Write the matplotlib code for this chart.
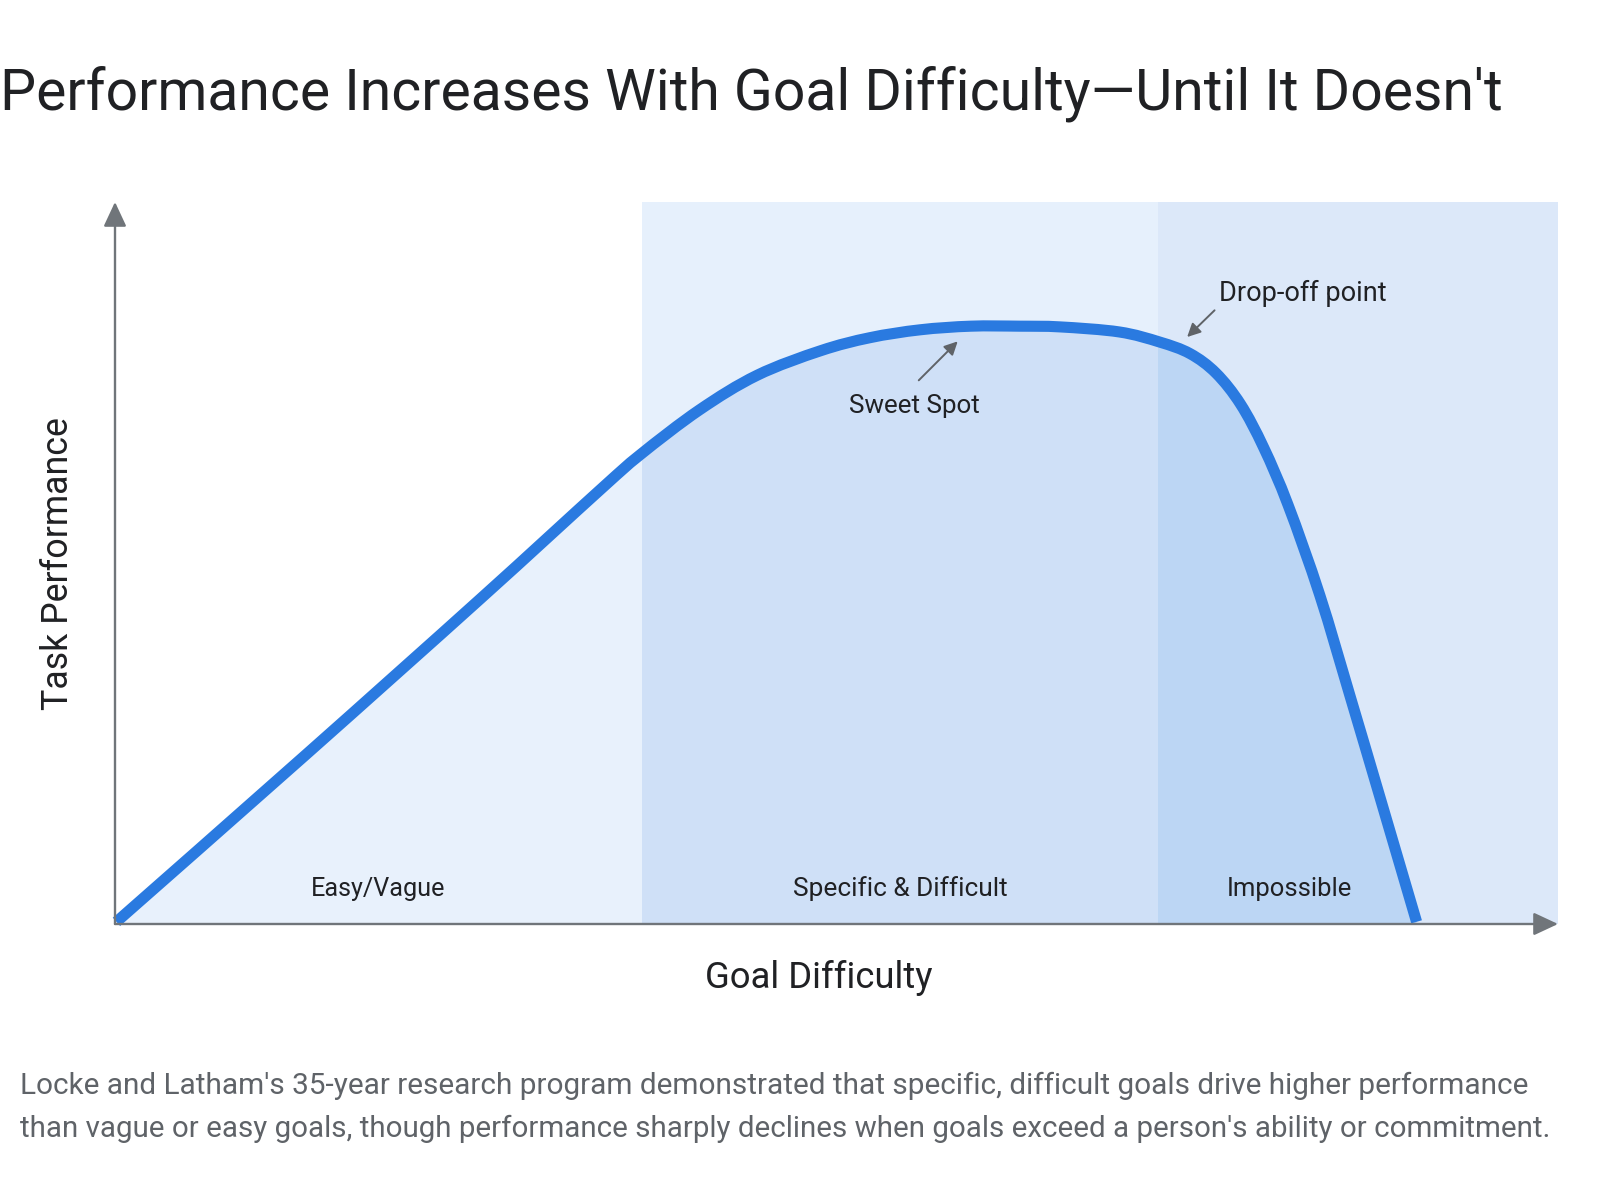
import matplotlib
matplotlib.use("Agg")
import matplotlib.pyplot as plt
from matplotlib.patches import Rectangle, FancyArrowPatch, PathPatch
from matplotlib.path import Path
import numpy as np

# ---------------- data ----------------
difficulty = [0.1, 13.2, 25.3, 33.6, 36.4, 40.5, 44.5, 48.9, 52.3, 55.8,
              59.3, 62.7, 65.5, 69.6, 72.4, 74.5, 76.3, 78.0, 79.6, 81.3,
              83.5, 85.6, 87.7, 90.2]
performance = [0.3, 23.4, 45.0, 60.1, 65.0, 71.2, 76.0, 79.4, 81.2, 82.3,
               82.8, 82.8, 82.7, 82.0, 80.6, 79.0, 76.3, 72.0, 66.0, 58.0,
               45.5, 31.5, 17.3, 0.3]

zone_names = ["Easy/Vague", "Specific & Difficult", "Impossible"]
zone_edges = [0, 36.5, 72.3, 100]
zone_label_x = [18.2, 54.4, 81.4]

title = "Performance Increases With Goal Difficulty\u2014Until It Doesn't"
x_label = "Goal Difficulty"
y_label = "Task Performance"
caption = ["Locke and Latham's 35-year research program demonstrated that specific, difficult goals drive higher performance",
           "than vague or easy goals, though performance sharply declines when goals exceed a person's ability or commitment."]

# ---------------- style ----------------
FONT = ["Roboto", "DejaVu Sans"]
plt.rcParams["font.family"] = FONT
DARK = "#202124"
GREY = "#5f6368"
AXIS = "#70757a"
BLUE = "#2a7ae0"
under_colors = ["#e8f1fc", "#cfe0f7", "#bcd6f4"]
above_colors = [None, "#e6f0fc", "#dce8f9"]

W, H = 1600, 1200
fig = plt.figure(figsize=(16, 12), dpi=100)
fig.patch.set_facecolor("white")
ax = fig.add_axes([115 / W, 276 / H, 1443 / W, 722 / H])
ax.set_xlim(0, 100)
ax.set_ylim(0, 100)
ax.axis("off")

pts = np.column_stack([difficulty, performance])


def smooth_path(p, closed_to_base=False):
    """Catmull-Rom style cubic Bezier path through the points."""
    verts = [p[0]]
    codes = [Path.MOVETO]
    n = len(p)
    for i in range(n - 1):
        p0 = p[i - 1] if i > 0 else p[i]
        p1, p2 = p[i], p[i + 1]
        p3 = p[i + 2] if i + 2 < n else p[i + 1]
        c1 = p1 + (p2 - p0) / 6.0
        c2 = p2 - (p3 - p1) / 6.0
        verts += [c1, c2, p2]
        codes += [Path.CURVE4] * 3
    if closed_to_base:
        verts += [(p[-1][0], 0), (p[0][0], 0), p[0]]
        codes += [Path.LINETO, Path.LINETO, Path.CLOSEPOLY]
    return Path(np.array(verts), codes)


# zone backgrounds and fills under the curve
for i in range(3):
    x0, x1 = zone_edges[i], zone_edges[i + 1]
    if above_colors[i]:
        ax.add_patch(Rectangle((x0, 0), x1 - x0, 100, facecolor=above_colors[i],
                               edgecolor="none", zorder=1))
    fill = PathPatch(smooth_path(pts, True), facecolor=under_colors[i],
                     edgecolor="none", zorder=2, transform=ax.transData)
    ax.add_patch(fill)
    fill.set_clip_path(Rectangle((x0, 0), x1 - x0, 100, transform=ax.transData))

# curve
curve = PathPatch(smooth_path(pts), facecolor="none", edgecolor=BLUE, lw=8,
                  capstyle="butt", joinstyle="round", zorder=5, clip_on=False,
                  transform=ax.transData)
ax.add_patch(curve)

# axes with arrowheads
for (p0, p1) in [((0, 0), (0, 100)), ((0, 0), (100, 0))]:
    arr = FancyArrowPatch(p0, p1, arrowstyle="-|>,head_length=15,head_width=7",
                          mutation_scale=1, color=AXIS, lw=1.7, shrinkA=0, shrinkB=0,
                          zorder=6, clip_on=False)
    ax.add_patch(arr)

# annotation arrows
ann_arrows = [((55.7, 75.3), (58.4, 80.7)), ((76.2, 85.0), (74.3, 81.3))]
for p0, p1 in ann_arrows:
    ax.add_patch(FancyArrowPatch(p0, p1, arrowstyle="-|>,head_length=8,head_width=4",
                                 mutation_scale=1, color=GREY, lw=1.4, shrinkA=0,
                                 shrinkB=0, zorder=7))

renderer = fig.canvas.get_renderer()


def fit(t, target, vertical=False):
    bb = t.get_window_extent(renderer)
    w = bb.height if vertical else bb.width
    t.set_fontsize(t.get_fontsize() * target / w)
    return t


# zone labels
zone_widths = [134, 214, 125]
for name, lx, tw in zip(zone_names, zone_label_x, zone_widths):
    t = ax.text(lx, 4.85, name, ha="center", va="center", color=DARK, fontsize=18, zorder=8)
    fit(t, tw)

t = ax.text(55.4, 71.7, "Sweet Spot", ha="center", va="center", color=DARK, fontsize=18, zorder=8)
fit(t, 131)
t = ax.text(82.3, 87.4, "Drop-off point", ha="center", va="center", color=DARK, fontsize=18, zorder=8)
fit(t, 167)

# axis labels
t = ax.text(48.8, -7.5, x_label, ha="center", va="center", color=DARK, fontsize=24, clip_on=False)
fit(t, 228)
t = ax.text(-3.95, 49.9, y_label, ha="center", va="center", rotation=90, color=DARK,
            fontsize=24, clip_on=False)
fit(t, 293, vertical=True)

# title
t = fig.text(0 / W, 1 - 110 / H, title, ha="left", va="baseline", color=DARK, fontsize=44)
fit(t, 1503)

# caption
cap_y = [1086, 1129]
cap_w = [1508, 1526]
for line, cy, cw in zip(caption, cap_y, cap_w):
    t = fig.text(20 / W, 1 - cy / H, line, ha="left", va="center", color=GREY, fontsize=20)
    fit(t, cw)

fig.savefig("out.png", dpi=100, facecolor="white")
